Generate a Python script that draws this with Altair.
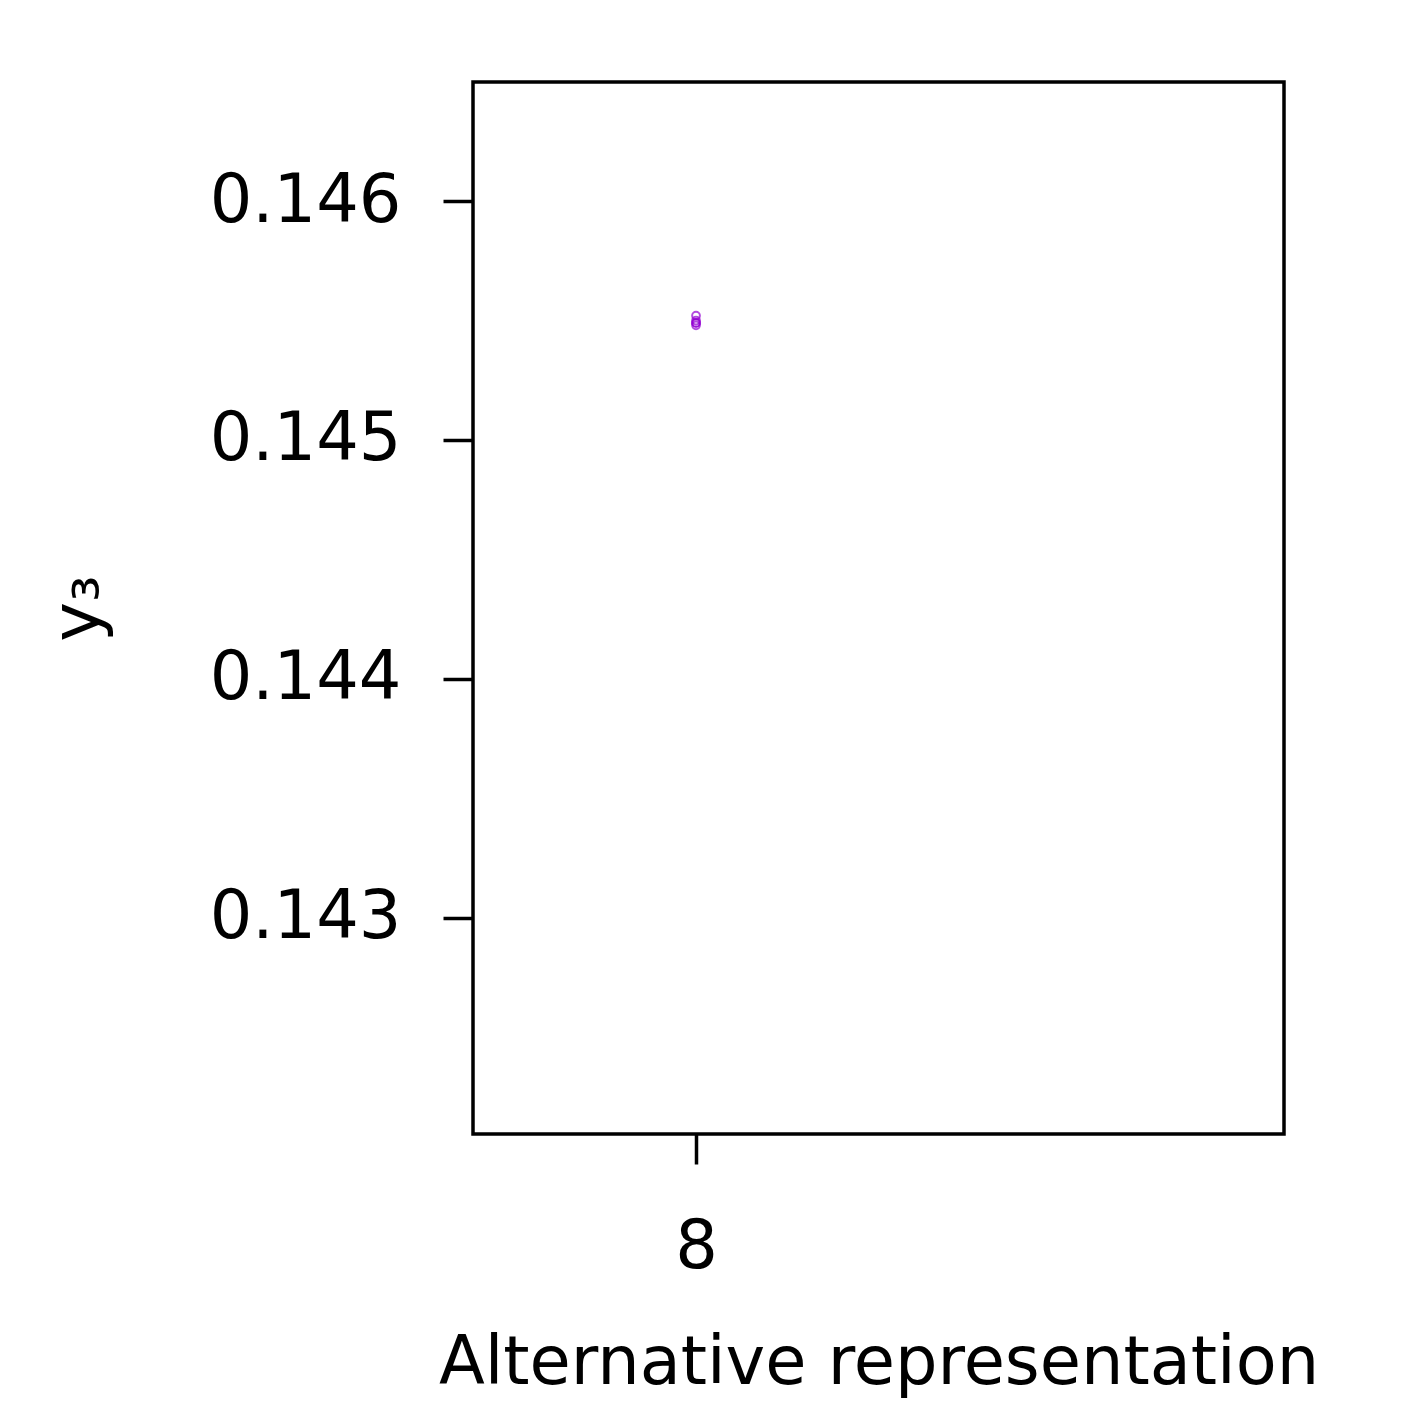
import altair as alt
import pandas as pd

representation = [8, 8, 8, 8, 8]
y3_values = [0.14552, 0.14550, 0.14549, 0.14549, 0.14548]

x_ticks = [8]
y_ticks = [0.143, 0.144, 0.145, 0.146]

df = pd.DataFrame({"rep": representation, "y3": y3_values})

FONT = "DejaVu Sans"
FS = 67

chart = alt.Chart(df).mark_point(
    shape="circle", filled=False, color="#9400D3", size=60, strokeWidth=2
).encode(
    x=alt.X("rep:Q",
            scale=alt.Scale(domain=[7.725, 8.725], nice=False, zero=False),
            axis=alt.Axis(values=x_ticks, format="d", title="Alternative representation",
                          grid=False, domain=False, tickSize=30, tickWidth=3.5, tickColor="black",
                          labelFont=FONT, labelFontSize=FS, labelColor="black", labelPadding=50,
                          labelLimit=0,
                          titleFont=FONT, titleFontSize=FS, titleFontWeight="normal", titleColor="black",
                          titleBaseline="alphabetic", titleY=249, titleLimit=0)),
    y=alt.Y("y3:Q",
            scale=alt.Scale(domain=[0.142096, 0.146498], nice=False, zero=False),
            axis=alt.Axis(values=y_ticks, format=".3f", title="y₃",
                          grid=False, domain=False, tickSize=30, tickWidth=3.5, tickColor="black",
                          labelFont=FONT, labelFontSize=FS, labelColor="black", labelPadding=42,
                          labelLimit=0,
                          titleFont=FONT, titleFontSize=FS, titleFontWeight="normal", titleColor="black",
                          titleAngle=-90, titleBaseline="alphabetic", titleX=-375, titleLimit=0)),
).properties(
    width=811, height=1052,
    background="white",
    autosize=alt.AutoSizeParams(type="none"),
    padding={"left": 465, "top": 74, "right": 100, "bottom": 276},
).configure_view(
    stroke="black", strokeWidth=3.5, fill="white"
)

chart.save("out.html", embed_options={"renderer": "svg", "actions": False})
